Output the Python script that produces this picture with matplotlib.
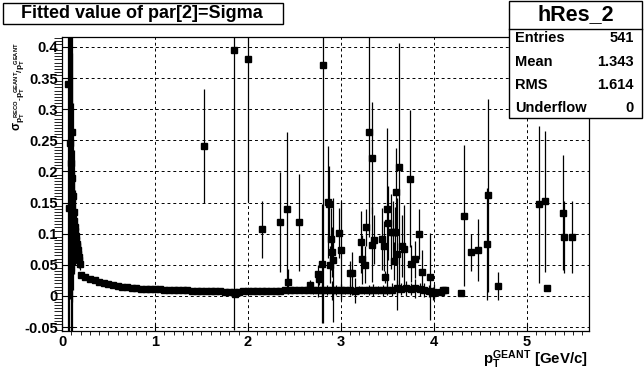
import numpy as np
import matplotlib
matplotlib.use('Agg')
import matplotlib.pyplot as plt
from matplotlib.ticker import MultipleLocator, FuncFormatter
from matplotlib.patches import Rectangle

plt.rcParams['font.family'] = ['Liberation Sans', 'DejaVu Sans']
plt.rcParams['font.weight'] = 'bold'
plt.rcParams['mathtext.fontset'] = 'custom'
plt.rcParams['mathtext.rm'] = 'Liberation Sans:bold'
plt.rcParams['mathtext.it'] = 'Liberation Sans:bold'
plt.rcParams['mathtext.bf'] = 'Liberation Sans:bold'
plt.rcParams['mathtext.sf'] = 'Liberation Sans:bold'

# steep part at low pT
steep_x = [0.065, 0.075, 0.085, 0.095, 0.105, 0.112, 0.118, 0.125, 0.132, 0.138, 0.145,
           0.150, 0.155, 0.160, 0.165, 0.170, 0.175, 0.180, 0.185, 0.190]
steep_y = [0.340, 0.142, 0.245, 0.213, 0.264, 0.190, 0.160, 0.135, 0.120, 0.110, 0.105,
           0.097, 0.090, 0.084, 0.080, 0.073, 0.068, 0.062, 0.057, 0.052]
steep_err = [0.40, 0.30, 0.25, 0.30, 0.40, 0.20, 0.15, 0.10, 0.08, 0.06, 0.05,
             0.04, 0.03, 0.03, 0.025, 0.02, 0.02, 0.015, 0.012, 0.01]

# dense band, bins of 0.05 from 0.20 to 4.00
band_x = np.round(np.arange(0.20, 4.001, 0.05), 2)
band_y = [0.034, 0.030, 0.027, 0.025, 0.023, 0.021, 0.019, 0.0175, 0.016, 0.0148,
          0.0138, 0.013, 0.0123, 0.0117, 0.0112, 0.011, 0.0107, 0.0104, 0.0101, 0.0098,
          0.0095, 0.0093, 0.0091, 0.0089, 0.0086, 0.0084, 0.0082, 0.0079, 0.0076, 0.0074,
          0.0071, 0.0069, 0.0068, 0.0068, 0.0070, 0.0072, 0.0074, 0.0076, 0.0078, 0.0080,
          0.0081, 0.0083, 0.0085, 0.0086, 0.0088, 0.0090, 0.0091, 0.0093, 0.0094, 0.0096,
          0.0097, 0.0098, 0.0090, 0.0095, 0.0088, 0.0092, 0.0094, 0.0090, 0.0092, 0.0085,
          0.0093, 0.0091, 0.0094, 0.0092, 0.0096, 0.0093, 0.0097, 0.0100, 0.0130, 0.0115,
          0.0125, 0.0110, 0.0120, 0.0105, 0.0095, 0.0080, 0.0070]
band_err = [0.004, 0.003, 0.003, 0.003, 0.002, 0.002, 0.002, 0.002, 0.002, 0.002,
            0.002, 0.002, 0.002, 0.002, 0.002, 0.002, 0.002, 0.002, 0.002, 0.002,
            0.002, 0.002, 0.002, 0.002, 0.002, 0.002, 0.002, 0.002, 0.002, 0.002,
            0.002, 0.003, 0.003, 0.003, 0.003, 0.003, 0.003, 0.003, 0.003, 0.003,
            0.003, 0.003, 0.003, 0.003, 0.004, 0.004, 0.004, 0.004, 0.004, 0.005,
            0.006, 0.012, 0.010, 0.008, 0.015, 0.008, 0.010, 0.006, 0.008, 0.020,
            0.007, 0.006, 0.008, 0.010, 0.007, 0.009, 0.008, 0.010, 0.012, 0.010,
            0.012, 0.010, 0.015, 0.010, 0.012, 0.010, 0.012]

# scattered fit results
out_x = [1.53, 1.85, 1.86, 2.003, 2.147, 2.35, 2.42, 2.43, 2.55, 2.67,
         2.75, 2.76, 2.80, 2.81, 2.86, 2.87, 2.88, 2.89, 2.90, 2.92,
         2.98, 3.00, 3.10, 3.12, 3.22, 3.23, 3.26, 3.27, 3.30, 3.33,
         3.34, 3.36, 3.44, 3.46, 3.47, 3.50, 3.51, 3.54, 3.56, 3.57,
         3.58, 3.59, 3.60, 3.63, 3.66, 3.68, 3.74, 3.75, 3.80, 3.84,
         3.87, 3.96, 3.99, 4.08, 4.10, 4.12, 4.29, 4.33, 4.40, 4.48,
         4.57, 4.58, 4.69, 5.13, 5.20, 5.22, 5.39, 5.40, 5.49]
out_y = [0.241, 0.395, 0.003, 0.381, 0.107, 0.119, 0.139, 0.023, 0.118, 0.017,
         0.035, 0.027, 0.052, 0.371, 0.151, 0.148, 0.050, 0.092, 0.071, 0.0575,
         0.101, 0.073, 0.036, 0.036, 0.087, 0.0586, 0.050, 0.110, 0.264, 0.2215,
         0.0825, 0.0905, 0.091, 0.080, 0.030, 0.140, 0.117, 0.103, 0.103, 0.056,
         0.103, 0.167, 0.068, 0.207, 0.080, 0.076, 0.1885, 0.052, 0.0586, 0.100,
         0.039, 0.031, 0.004, 0.007, 0.010, 0.0095, 0.0043, 0.129, 0.0698, 0.074,
         0.0836, 0.162, 0.016, 0.147, 0.152, 0.013, 0.134, 0.094, 0.094]
out_err = [0.092, 0.45, 0.003, 0.23, 0.046, 0.080, 0.125, 0.020, 0.078, 0.008,
           0.015, 0.010, 0.095, 0.414, 0.090, 0.060, 0.030, 0.050, 0.040, 0.100,
           0.040, 0.080, 0.020, 0.035, 0.050, 0.040, 0.030, 0.030, 0.170, 0.090,
           0.060, 0.040, 0.050, 0.040, 0.010, 0.130, 0.060, 0.060, 0.050, 0.030,
           0.040, 0.070, 0.090, 0.200, 0.050, 0.070, 0.110, 0.030, 0.030, 0.040,
           0.035, 0.070, 0.010, 0.005, 0.004, 0.005, 0.002, 0.113, 0.030, 0.050,
           0.090, 0.155, 0.023, 0.126, 0.113, 0.005, 0.092, 0.058, 0.058]

stats_names = ['Entries', 'Mean', 'RMS', 'Underflow']
stats_vals = ['541', '1.343', '1.614', '0']

fig = plt.figure(figsize=(6.44, 3.71), dpi=100)
ax = fig.add_axes([0.0963, 0.1078, 0.8183, 0.7925])

style = dict(fmt='s', ms=4.5, color='black', ecolor='black', elinewidth=0.9,
             capsize=0, zorder=3)
ax.errorbar(steep_x, steep_y, yerr=steep_err, **style)
ax.errorbar(band_x, band_y, yerr=band_err, **style)
ax.errorbar(out_x, out_y, yerr=out_err, **style)

ax.set_xlim(0, 5.67)
ax.set_ylim(-0.0564, 0.416)
ax.xaxis.set_major_locator(MultipleLocator(1))
ax.xaxis.set_minor_locator(MultipleLocator(0.1))
ax.yaxis.set_major_locator(MultipleLocator(0.05))
ax.yaxis.set_minor_locator(MultipleLocator(0.005))
ax.yaxis.set_major_formatter(FuncFormatter(lambda v, p: '%g' % round(v, 3)))
ax.xaxis.set_major_formatter(FuncFormatter(lambda v, p: '%g' % round(v, 3)))
ax.tick_params(direction='in', top=False, right=False, labelsize=10.5, width=0.8)
ax.tick_params(axis='x', which='major', length=6, pad=3)
ax.tick_params(axis='x', which='minor', length=3)
ax.tick_params(axis='y', which='major', length=9, pad=3)
ax.tick_params(axis='y', which='minor', length=6)
for lab in ax.get_xticklabels() + ax.get_yticklabels():
    lab.set_fontweight('bold')
ax.grid(True, which='major', color='black', linestyle=(0, (3, 3)), linewidth=0.7)
for s in ax.spines.values():
    s.set_linewidth(0.9)

fig.text(0.03, 1 - 42 / 371, r'$\sigma_{p_{T}^{RECO}\text{-}p_{T}^{GEANT}/p_{T}^{GEANT}}$',
         rotation=90, ha='center', va='top', fontsize=8.5)
fig.text(588 / 644, 1 - 364 / 371, r'$p_{T}^{GEANT}$ [GeV/c]', ha='right',
         va='baseline', fontsize=10.8, fontweight='bold')

# title box
fig.patches.append(Rectangle((3 / 644, 1 - 24 / 371), 280 / 644, 21 / 371,
                             transform=fig.transFigure, facecolor='white',
                             edgecolor='black', linewidth=1.0))
fig.text(142 / 644, 1 - 14 / 371, 'Fitted value of par[2]=Sigma', ha='center',
         va='center', fontsize=13, fontweight='bold')

# stats box
bx0, bx1 = 509 / 644, 642 / 644
by0, by1 = 1 - 118 / 371, 1 - 1 / 371
fig.patches.append(Rectangle((bx0, by0), bx1 - bx0, by1 - by0,
                             transform=fig.transFigure, facecolor='white',
                             edgecolor='black', linewidth=1.0, zorder=5))
fig.add_artist(plt.Line2D([bx0, bx1], [1 - 29 / 371] * 2, transform=fig.transFigure,
                          color='black', linewidth=1.0, zorder=6))
fig.text((bx0 + bx1) / 2, 1 - 15 / 371, 'hRes_2', ha='center', va='center',
         fontsize=15.5, fontweight='bold', zorder=7)
rows_y = [38, 62, 85, 108]
for name, val, ry in zip(stats_names, stats_vals, rows_y):
    fig.text(515 / 644, 1 - ry / 371, name, ha='left', va='center', fontsize=10.5,
             fontweight='bold', zorder=7)
    fig.text(634 / 644, 1 - ry / 371, val, ha='right', va='center', fontsize=10.5,
             fontweight='bold', zorder=7)

fig.savefig('out.png', dpi=100)
